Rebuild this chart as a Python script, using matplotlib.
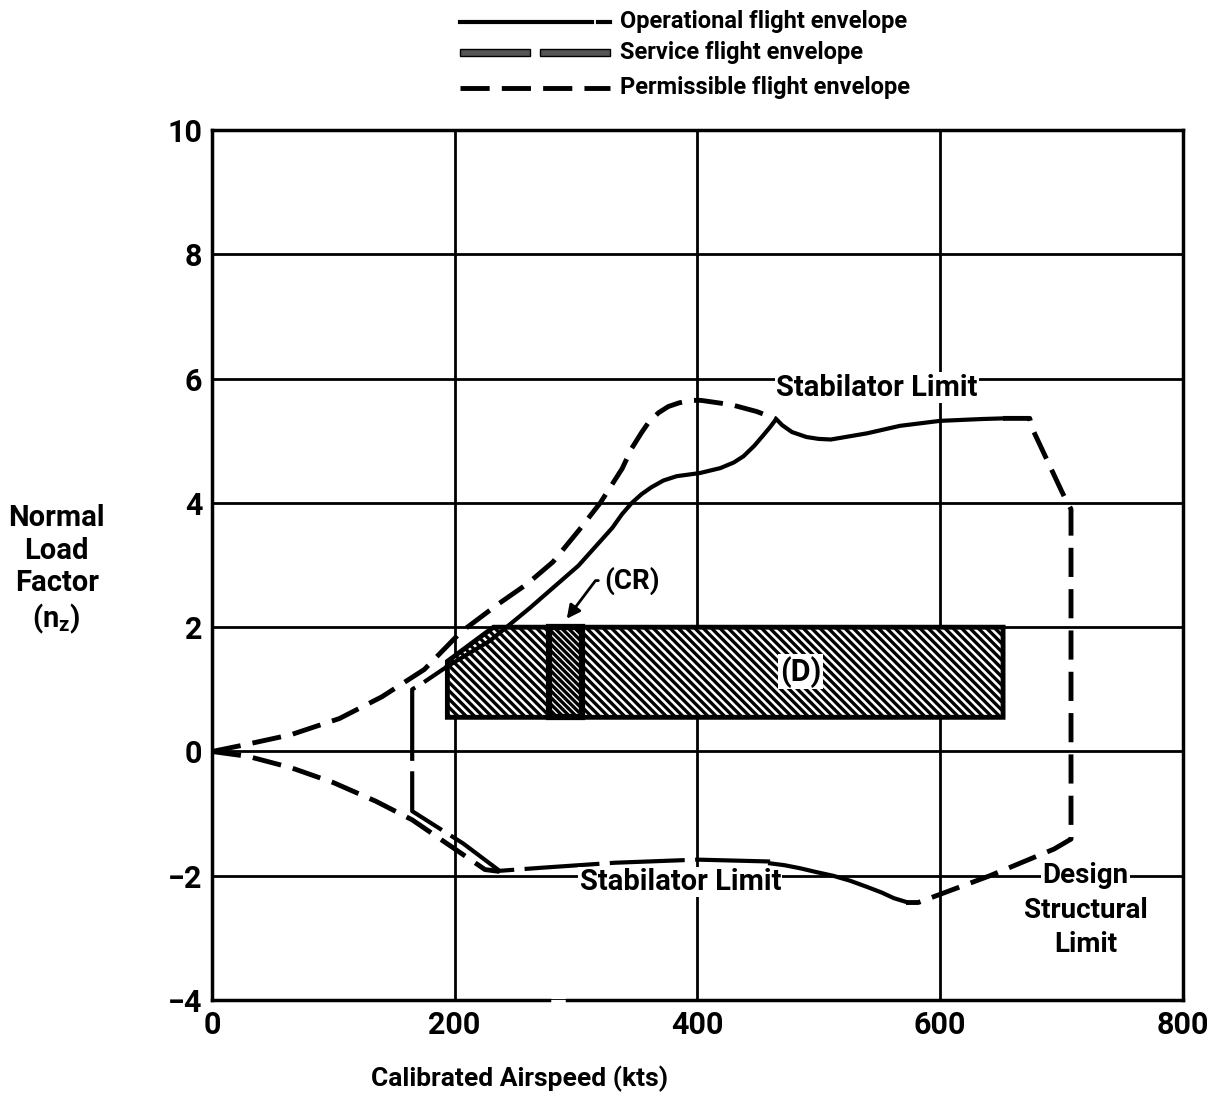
import matplotlib
matplotlib.use('Agg')
import matplotlib.pyplot as plt
from matplotlib.lines import Line2D
from matplotlib.patches import Rectangle

plt.rcParams['font.family'] = ['Roboto', 'DejaVu Sans']
plt.rcParams['font.stretch'] = 'condensed'
plt.rcParams['font.weight'] = 'bold'
plt.rcParams['axes.labelweight'] = 'bold'
plt.rcParams['hatch.linewidth'] = 2.4

# permissible flight envelope (dashed)
perm_upper_kts = [0, 25, 65, 105, 140, 175, 205, 235, 260, 281, 302, 320, 338, 346, 354, 360, 368, 376,
                  385, 395, 403, 428, 449, 465]
perm_upper_nz = [0, 0.1, 0.27, 0.53, 0.88, 1.32, 1.92, 2.36, 2.7, 3.05, 3.55, 4.0, 4.55, 4.88, 5.13, 5.3, 5.45, 5.55,
                 5.61, 5.65, 5.65, 5.58, 5.47, 5.35]
perm_right_kts = [652, 674, 676, 700, 703, 708, 708, 694, 641, 582, 572]
perm_right_nz = [5.36, 5.36, 5.2, 4.2, 4.08, 3.9, -1.41, -1.57, -2.0, -2.43, -2.43]
perm_lower_kts = [0, 30, 65, 100, 135, 165, 195, 225, 237]
perm_lower_nz = [0, -0.08, -0.26, -0.5, -0.8, -1.1, -1.5, -1.9, -1.93]

# operational flight envelope
op_upper_kts = [194, 229, 262, 302, 330, 338, 346, 354, 362, 372, 383, 402, 419, 430, 438, 447, 454, 460, 465,
                470, 478, 490, 500, 510, 540, 567, 600, 635, 652]
op_upper_nz = [1.37, 1.78, 2.31, 2.99, 3.6, 3.82, 4.0, 4.14, 4.25, 4.36, 4.43, 4.48, 4.56, 4.65, 4.75, 4.92, 5.08,
               5.22, 5.35, 5.25, 5.14, 5.06, 5.03, 5.02, 5.12, 5.24, 5.32, 5.35, 5.36]
op_left_kts = [460, 400, 332, 272, 237, 207, 165, 165, 172, 194]
op_left_nz = [-1.77, -1.74, -1.79, -1.87, -1.92, -1.48, -0.96, 1.0, 1.08, 1.37]
op_lower_kts = [460, 472, 485, 498, 512, 526, 540, 552, 562, 572]
op_lower_nz = [-1.8, -1.83, -1.88, -1.94, -2.0, -2.08, -2.18, -2.27, -2.36, -2.42]

# service envelope boxes (D) and (CR)
service_kts = [194, 194, 232, 652, 652]
service_nz = [0.55, 1.45, 2.0, 2.0, 0.55]
cr_kts = [278, 305]
cr_nz = [0.55, 2.0]

fig = plt.figure(figsize=(12.08, 10.99), dpi=100)
ax = fig.add_axes([0.1755, 0.09, 0.8035, 0.7917])
ax.set_xlim(0, 800)
ax.set_ylim(-4, 10)
ax.set_xticks([0, 200, 400, 600, 800])
ax.set_yticks(range(-4, 11, 2))
ax.tick_params(length=0, labelsize=22, pad=7)
ax.grid(True, color='k', lw=2)
ax.set_axisbelow(True)
for s in ax.spines.values():
    s.set_linewidth(2.5)
ax.spines['bottom'].set_bounds(0, 278)
ax.plot([293, 800], [-4, -4], color='k', lw=2.5, clip_on=False, zorder=2)

ax.fill(service_kts, service_nz, facecolor='white', edgecolor='k', hatch='\\\\\\\\', lw=3.5, zorder=3)
ax.add_patch(Rectangle((cr_kts[0], cr_nz[0]), cr_kts[1] - cr_kts[0], cr_nz[1] - cr_nz[0],
                       facecolor='white', edgecolor='k', hatch='\\\\\\\\\\', lw=4.5, zorder=4))

dash = (0, (6, 2.5))
ax.plot(perm_upper_kts, perm_upper_nz, color='k', lw=3.5, ls=dash, zorder=5)
ax.plot(perm_right_kts, perm_right_nz, color='k', lw=3.5, ls=dash, zorder=5)
ax.plot(perm_lower_kts, perm_lower_nz, color='k', lw=3.5, ls=dash, zorder=5)
ax.plot(op_upper_kts, op_upper_nz, color='k', lw=3, zorder=5)
ax.plot(op_left_kts, op_left_nz, color='k', lw=3, ls=(0, (18, 2.5)), zorder=5)
ax.plot(op_lower_kts, op_lower_nz, color='k', lw=3, zorder=5)

box = dict(facecolor='white', edgecolor='none', pad=1)
ax.text(548, 5.85, 'Stabilator Limit', fontsize=21, ha='center', va='center', bbox=box, zorder=6)
ax.text(386, -2.1, 'Stabilator Limit', fontsize=21, ha='center', va='center', bbox=box, zorder=6)
ax.text(485, 1.28, '(D)', fontsize=22, ha='center', va='center', bbox=box, zorder=6)
ax.text(720, -2.0, 'Design', fontsize=20, ha='center', va='center', bbox=box, zorder=6)
ax.text(720, -2.56, 'Structural', fontsize=20, ha='center', va='center', bbox=box, zorder=6)
ax.text(720, -3.1, 'Limit', fontsize=20, ha='center', va='center', bbox=box, zorder=6)
ax.annotate('(CR)', xy=(291, 2.1), xytext=(323, 2.75), fontsize=20, ha='left', va='center',
            arrowprops=dict(arrowstyle='-|>', color='k', lw=2, relpos=(0, 0.5),
                            connectionstyle='angle,angleA=0,angleB=53,rad=0'), zorder=6)

ax.set_ylabel('Normal\nLoad\nFactor\n(n$_\\mathregular{z}$)', rotation=0, fontsize=21,
              ha='center', va='center', linespacing=1.2)
ax.yaxis.set_label_coords(-0.16, 0.494)
ax.set_xlabel('Calibrated Airspeed (kts)', fontsize=19)
ax.xaxis.set_label_coords(0.317, -0.075)

# legend
tf = fig.transFigure
fig.add_artist(Line2D([0.381, 0.490], [0.980, 0.980], transform=tf, color='k', lw=3))
fig.add_artist(Line2D([0.495, 0.505], [0.980, 0.980], transform=tf, color='k', lw=3))
fig.add_artist(Rectangle((0.381, 0.949), 0.058, 0.006, transform=tf, facecolor='#555555', edgecolor='k', lw=1))
fig.add_artist(Rectangle((0.447, 0.949), 0.058, 0.006, transform=tf, facecolor='#555555', edgecolor='k', lw=1))
fig.add_artist(Line2D([0.381, 0.505], [0.920, 0.920], transform=tf, color='k', lw=3.5, ls=dash))
fig.text(0.513, 0.980, 'Operational flight envelope', fontsize=17, va='center')
fig.text(0.513, 0.952, 'Service flight envelope', fontsize=17, va='center')
fig.text(0.513, 0.920, 'Permissible flight envelope', fontsize=17, va='center')

fig.savefig('out.png', dpi=100)
